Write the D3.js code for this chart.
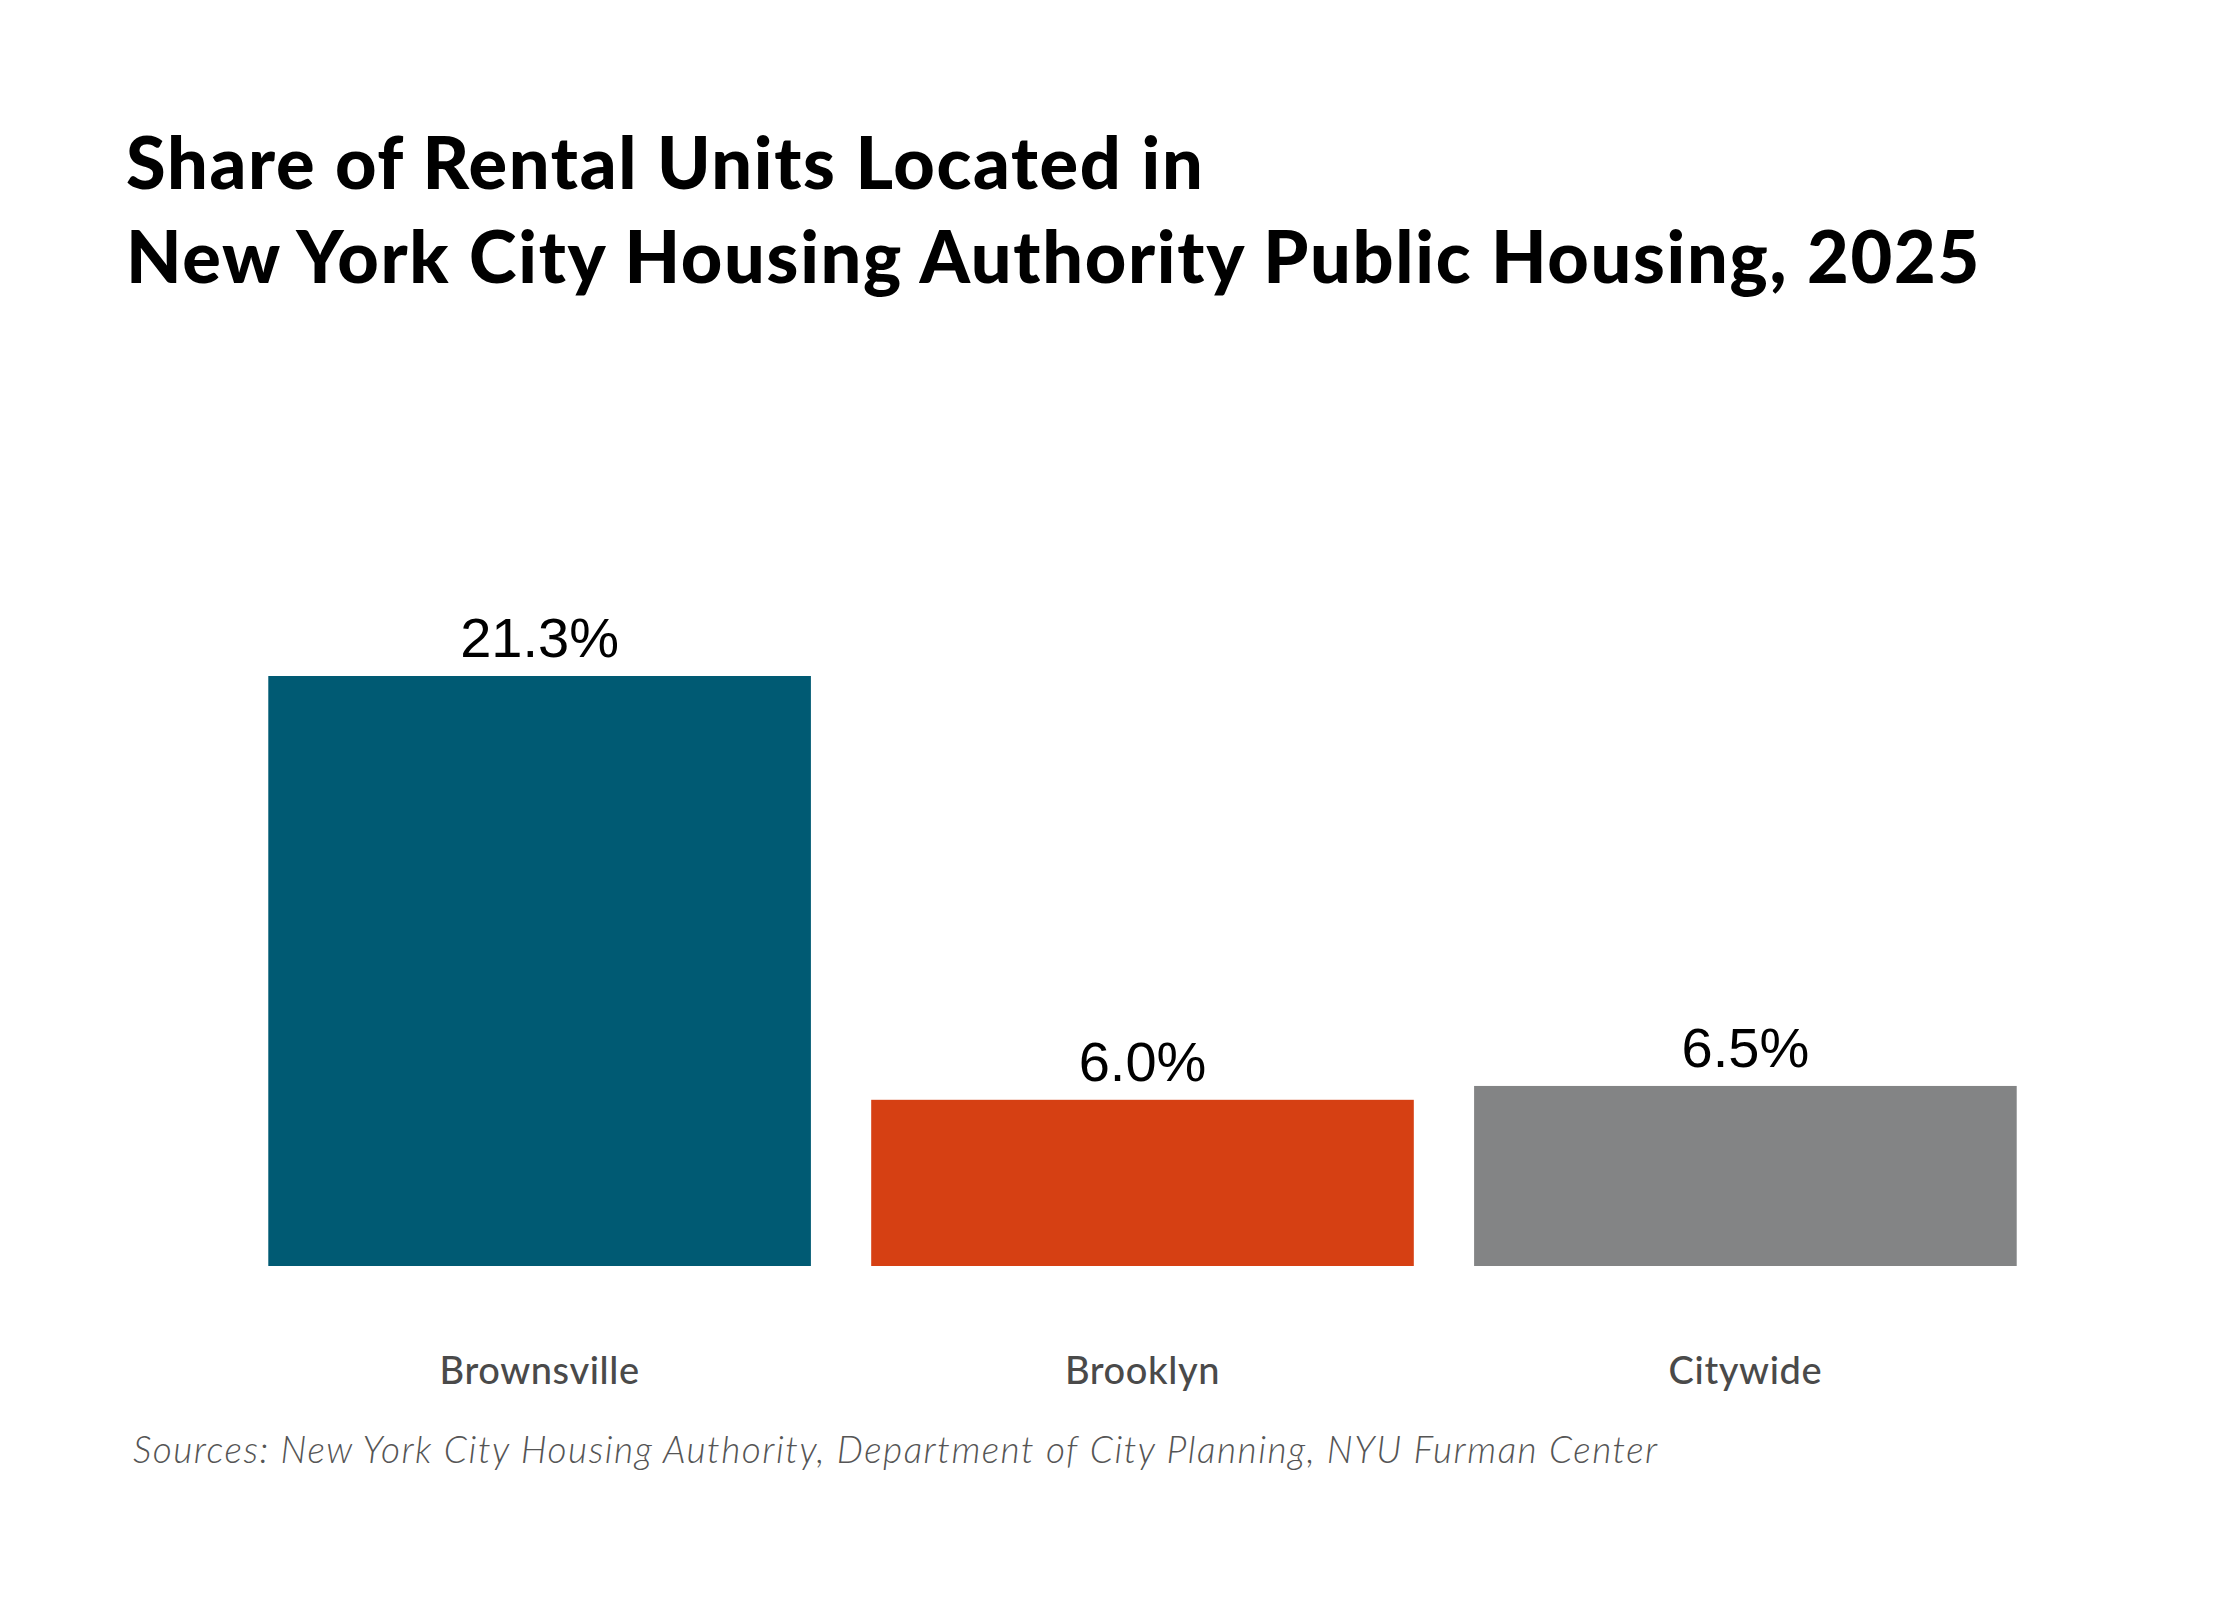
<!DOCTYPE html>
<html>
<head>
<meta charset="utf-8">
<script src="https://cdn.jsdelivr.net/npm/d3@7"></script>
<style>
  body { margin: 0; background: #fff; }
</style>
</head>
<body>
<div id="chart"></div>
<script>
const categories = ['Brownsville', 'Brooklyn', 'Citywide']
const shares = [21.3, 6.0, 6.5]
const barColors = ['#005a73', '#d64013', '#838485']
const titleLines = [
  'Share of Rental Units Located in',
  'New York City Housing Authority Public Housing, 2025'
]
const sourceText = 'Sources: New York City Housing Authority, Department of City Planning, NYU Furman Center'

const width = 2240
const height = 1600

const data = categories.map((c, i) => ({ name: c, value: shares[i], color: barColors[i] }))

const svg = d3.select('#chart')
  .append('svg')
  .attr('width', width)
  .attr('height', height)

svg.append('rect')
  .attr('width', width)
  .attr('height', height)
  .attr('fill', '#fff')

// title
svg.append('g')
  .selectAll('text')
  .data(titleLines)
  .enter()
  .append('text')
  .attr('x', 126)
  .attr('y', (d, i) => 189 + i * 94)
  .attr('font-family', 'Lato, sans-serif')
  .attr('font-weight', 900)
  .attr('font-size', 72)
  .attr('letter-spacing', 1.7)
  .attr('fill', '#000')
  .text(d => d)

const xScale = d3.scaleBand()
  .domain(categories)
  .range([208, 2077])
  .padding(0.1)

const yScale = d3.scaleLinear()
  .domain([0, d3.max(shares)])
  .range([1266, 676])

const bars = svg.append('g')
  .selectAll('.bar')
  .data(data)
  .enter()
  .append('g')
  .attr('class', 'bar')

bars.append('rect')
  .attr('x', d => xScale(d.name))
  .attr('y', d => yScale(d.value))
  .attr('width', xScale.bandwidth())
  .attr('height', d => yScale(0) - yScale(d.value))
  .attr('fill', d => d.color)

bars.append('text')
  .attr('x', d => xScale(d.name) + xScale.bandwidth() / 2)
  .attr('y', d => yScale(d.value) - 19)
  .attr('text-anchor', 'middle')
  .attr('font-family', '"Liberation Sans", Arial, sans-serif')
  .attr('font-size', 56)
  .attr('fill', '#000')
  .text(d => `${d.value.toFixed(1)}%`)

// category axis, no line or ticks
svg.append('g')
  .attr('class', 'axis')
  .attr('transform', 'translate(0,1384)')
  .call(d3.axisBottom(xScale).tickSize(0).tickPadding(0))
  .call(g => g.select('.domain').remove())
  .selectAll('text')
  .attr('dy', 0)
  .attr('font-family', 'Lato, sans-serif')
  .attr('font-weight', 500)
  .attr('font-size', 38)
  .attr('letter-spacing', 0.6)
  .attr('fill', '#4a4a4a')

svg.append('text')
  .attr('x', 133)
  .attr('y', 1463)
  .attr('font-family', 'Lato, sans-serif')
  .attr('font-style', 'italic')
  .attr('font-weight', 300)
  .attr('font-size', 37)
  .attr('letter-spacing', 1.5)
  .attr('fill', '#555')
  .text(sourceText)
</script>
</body>
</html>
